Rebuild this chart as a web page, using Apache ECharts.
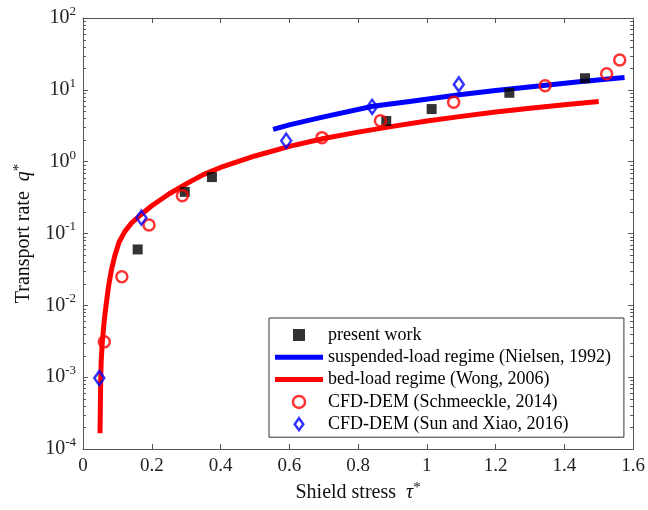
<!DOCTYPE html>
<html>
<head>
<meta charset="utf-8">
<script src="https://cdn.jsdelivr.net/npm/echarts@6/dist/echarts.min.js"></script>
<style>
html, body { margin: 0; padding: 0; background: #fff; }
#chart { width: 648px; height: 510px; }
</style>
</head>
<body>
<div id="chart"></div>
<script>
// values, [shield stress, transport rate]
const presentWork = [[0.159, 0.060], [0.296, 0.38], [0.375, 0.61], [0.882, 3.68], [1.014, 5.4], [1.240, 9.1], [1.460, 14.5]];
const schmeeckle = [[0.062, 0.0031], [0.113, 0.025], [0.192, 0.131], [0.289, 0.336], [0.695, 2.16], [0.865, 3.72], [1.078, 6.7], [1.344, 11.4], [1.523, 16.8], [1.561, 26]];
const sunXiao = [[0.0474, 0.00097], [0.170, 0.166], [0.591, 1.96], [0.841, 5.8], [1.093, 11.9]];
const nielsen = [[0.553, 2.82], [0.6, 3.25], [0.7, 4.2], [0.843, 5.9], [0.95, 6.9], [1.1, 8.6], [1.2, 9.8], [1.346, 11.6], [1.45, 13.1], [1.575, 14.9]];
const wong = [[0.0495, 0.000166], [0.0505, 0.0004], [0.0514, 0.00089], [0.053, 0.0017], [0.056, 0.003], [0.06, 0.005], [0.064, 0.0076], [0.07, 0.0129], [0.0755, 0.02], [0.083, 0.0316], [0.093, 0.05], [0.105, 0.076], [0.122, 0.107], [0.14, 0.138], [0.1655, 0.178], [0.2, 0.243], [0.25, 0.355], [0.3, 0.49], [0.35, 0.66], [0.4, 0.83], [0.5, 1.2], [0.6, 1.63], [0.7, 2.1], [0.8, 2.58], [0.9, 3.1], [1.0, 3.68], [1.1, 4.27], [1.2, 4.9], [1.3, 5.55], [1.4, 6.2], [1.5, 6.9]];

const xMin = 0, xMax = 1.6, xStep = 0.2;
const yMin = 1e-4, yMax = 1e2;

const names = [
    'present work',
    'suspended-load regime (Nielsen, 1992)',
    'bed-load regime (Wong, 2006)',
    'CFD-DEM (Schmeeckle, 2014)',
    'CFD-DEM (Sun and Xiao, 2016)'
];

const font = 'Liberation Serif';
const axisColor = '#555';
const barIcon = 'path://M0,0L48,0L48,5L0,5Z';
const squareIcon = 'path://M0,0L10,0L10,10L0,10Z';
const diamondIcon = 'path://M0,-7L5,0L0,7L-5,0Z';

const myChart = echarts.init(document.getElementById('chart'));

const yLabel = function (v) {
    const e = Math.round(Math.log10(v));
    return '{b|10}{e|' + e + '}';
};

const nameRich = {
    n: { fontFamily: font, fontSize: 20, color: '#111', lineHeight: 24 },
    i: { fontFamily: font, fontSize: 20, fontStyle: 'italic', color: '#111', lineHeight: 24 },
    s: { fontFamily: font, fontSize: 15, color: '#111', lineHeight: 15, verticalAlign: 'top' }
};

const option = {
    animation: false,
    grid: { left: 83, right: 14, top: 18, bottom: 61 },
    legend: {
        orient: 'vertical',
        left: 269,
        top: 318,
        padding: [8, 13, 4, 6],
        itemWidth: 48,
        itemHeight: 12,
        itemGap: 4.3,
        borderColor: '#333',
        borderWidth: 1,
        backgroundColor: '#fff',
        textStyle: { fontFamily: font, fontSize: 18, color: '#000', lineHeight: 18 },
        data: [
            { name: names[0], icon: squareIcon },
            { name: names[1], icon: barIcon },
            { name: names[2], icon: barIcon },
            { name: names[3], icon: 'circle', itemStyle: { borderWidth: 2.5 } },
            { name: names[4], icon: diamondIcon, itemStyle: { borderWidth: 2.5 } }
        ]
    },
    xAxis: [
        {
            type: 'value',
            min: xMin,
            max: xMax,
            interval: xStep,
            position: 'bottom',
            name: '{n|Shield stress  }{i|τ}{s|*}',
            nameLocation: 'middle',
            nameGap: 30,
            nameTextStyle: { rich: nameRich },
            splitLine: { show: false },
            axisLine: { onZero: false, lineStyle: { color: axisColor } },
            axisTick: { inside: true, length: 5, lineStyle: { color: axisColor } },
            axisLabel: { fontFamily: font, fontSize: 19, color: '#222', margin: 8 }
        },
        {
            type: 'value',
            min: xMin,
            max: xMax,
            interval: xStep,
            position: 'top',
            splitLine: { show: false },
            axisLine: { onZero: false, lineStyle: { color: axisColor } },
            axisTick: { inside: true, length: 5, lineStyle: { color: axisColor } },
            axisLabel: { show: false }
        }
    ],
    yAxis: [
        {
            type: 'log',
            logBase: 10,
            min: yMin,
            max: yMax,
            position: 'left',
            name: '{n|Transport rate  }{i|q}{s|*}',
            nameLocation: 'middle',
            nameGap: 47,
            nameRotate: 90,
            nameTextStyle: { rich: nameRich },
            splitLine: { show: false },
            axisLine: { onZero: false, lineStyle: { color: axisColor } },
            axisTick: { inside: true, length: 5, lineStyle: { color: axisColor } },
            axisLabel: {
                margin: 7,
                formatter: yLabel,
                rich: {
                    b: { fontFamily: font, fontSize: 20, color: '#222', lineHeight: 26 },
                    e: { fontFamily: font, fontSize: 13, color: '#222', lineHeight: 13, verticalAlign: 'top' }
                }
            }
        },
        {
            type: 'log',
            logBase: 10,
            min: yMin,
            max: yMax,
            position: 'right',
            splitLine: { show: false },
            axisLine: { onZero: false, lineStyle: { color: axisColor } },
            axisTick: { inside: true, length: 5, lineStyle: { color: axisColor } },
            axisLabel: { show: false }
        }
    ],
    series: [
        {
            name: names[2],
            type: 'line',
            data: wong,
            symbol: 'none',
            z: 2,
            itemStyle: { color: '#ff0000' },
            lineStyle: { color: '#ff0000', width: 5, join: 'round' }
        },
        {
            name: names[1],
            type: 'line',
            data: nielsen,
            symbol: 'none',
            z: 2,
            itemStyle: { color: '#0000ff' },
            lineStyle: { color: '#0000ff', width: 5, join: 'round' }
        },
        {
            name: names[0],
            type: 'scatter',
            data: presentWork,
            symbol: 'rect',
            symbolSize: 10,
            z: 3,
            itemStyle: { color: '#000' }
        },
        {
            name: names[3],
            type: 'scatter',
            data: schmeeckle,
            symbol: 'circle',
            symbolSize: 11,
            z: 4,
            itemStyle: { color: 'rgba(255,255,255,0)', borderColor: '#ff0000', borderWidth: 2.5 }
        },
        {
            name: names[4],
            type: 'scatter',
            data: sunXiao,
            symbol: 'diamond',
            symbolSize: [10, 14],
            z: 4,
            itemStyle: { color: 'rgba(255,255,255,0)', borderColor: '#0000ff', borderWidth: 2.5 }
        }
    ]
};

myChart.setOption(option);

// minor log ticks (2..9 in each decade) on both sides of the box
const xl = myChart.convertToPixel({ xAxisIndex: 0 }, xMin);
const xr = myChart.convertToPixel({ xAxisIndex: 0 }, xMax);
const minor = [];
for (let e = Math.log10(yMin); e < Math.log10(yMax); e++) {
    for (let k = 2; k <= 9; k++) {
        const y = Math.round(myChart.convertToPixel({ yAxisIndex: 0 }, k * Math.pow(10, e))) + 0.5;
        minor.push({ type: 'line', shape: { x1: xl, y1: y, x2: xl + 3, y2: y }, style: { stroke: axisColor, lineWidth: 1 } });
        minor.push({ type: 'line', shape: { x1: xr, y1: y, x2: xr - 3, y2: y }, style: { stroke: axisColor, lineWidth: 1 } });
    }
}
myChart.setOption({ graphic: minor });
</script>
</body>
</html>
